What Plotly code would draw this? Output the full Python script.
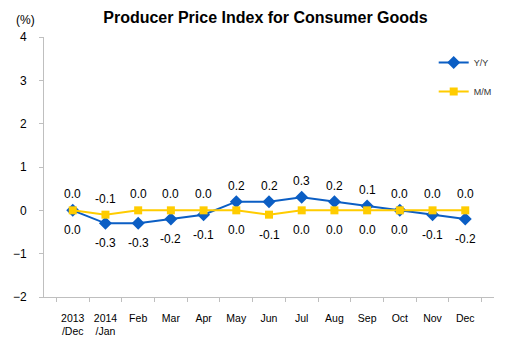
import plotly.graph_objects as go

categories = ["2013<br>/Dec", "2014<br>/Jan", "Feb", "Mar", "Apr", "May", "Jun",
              "Jul", "Aug", "Sep", "Oct", "Nov", "Dec"]
yy = [0.0, -0.3, -0.3, -0.2, -0.1, 0.2, 0.2, 0.3, 0.2, 0.1, 0.0, -0.1, -0.2]
mm = [0.0, -0.1, 0.0, 0.0, 0.0, 0.0, -0.1, 0.0, 0.0, 0.0, 0.0, 0.0, 0.0]

# label placement: True = above the point, False = below
yy_above = [False] * 5 + [True] * 5 + [False] * 3
mm_above = [True] * 5 + [False] * 5 + [True] * 3

font = "Liberation Sans, Arial, sans-serif"
BLUE = "#0B5EC4"
YELLOW = "#FFCC00"

fig = go.Figure()
fig.add_trace(go.Scatter(
    x=categories, y=yy, name="Y/Y", mode="lines+markers",
    line=dict(color=BLUE, width=2),
    marker=dict(symbol="diamond", size=10, color=BLUE),
    legendgroup="a", cliponaxis=False,
))
fig.add_trace(go.Scatter(
    x=categories, y=mm, name="M/M", mode="lines+markers",
    line=dict(color=YELLOW, width=2),
    marker=dict(symbol="square", size=8, color=YELLOW),
    legendgroup="b", cliponaxis=False,
))

annotations = []
for vals, above in ((yy, yy_above), (mm, mm_above)):
    for c, v, a in zip(categories, vals, above):
        annotations.append(dict(
            x=c, y=v, xref="x", yref="y", text=f"{v:.1f}", showarrow=False,
            xanchor="center", yanchor="middle", yshift=16 if a else -20,
            font=dict(size=12, family=font, color="black"),
        ))

annotations.append(dict(text="(%)", x=(25 - 44) / 453, y=(297 - 20) / 260,
                        xref="paper", yref="paper", showarrow=False,
                        xanchor="center", yanchor="middle",
                        font=dict(size=12, family=font, color="black")))

fig.update_layout(
    width=509, height=342,
    margin=dict(l=44, r=12, t=37, b=45),
    paper_bgcolor="white", plot_bgcolor="white",
    font=dict(family=font, color="black"),
    title=dict(text="<b>Producer Price Index for Consumer Goods</b>",
               x=265.5 / 509, xanchor="center", y=1 - 17 / 342, yanchor="middle",
               font=dict(size=16, family=font, color="black")),
    showlegend=True,
    legend=dict(x=0.866, y=0.958, xanchor="left", yanchor="top",
                font=dict(size=9, family=font, color="#333"),
                bgcolor="rgba(0,0,0,0)", tracegroupgap=10,
                traceorder="grouped"),
    xaxis=dict(type="category", showgrid=False, showline=True,
               linecolor="#BFBFBF", linewidth=1, ticks="outside",
               tickson="boundaries", ticklen=4, tickcolor="#BFBFBF",
               tickfont=dict(size=10.5, family=font), zeroline=False,
               ticklabelstandoff=11, automargin=False),
    yaxis=dict(range=[-2, 4], dtick=1, showgrid=False, showline=True,
               linecolor="#BFBFBF", linewidth=1, ticks="outside",
               ticklen=4, tickcolor="#BFBFBF", zeroline=False,
               tickfont=dict(size=12, family=font), ticklabelstandoff=10,
               automargin=False),
    annotations=annotations,
)

fig.write_html("out.html")
